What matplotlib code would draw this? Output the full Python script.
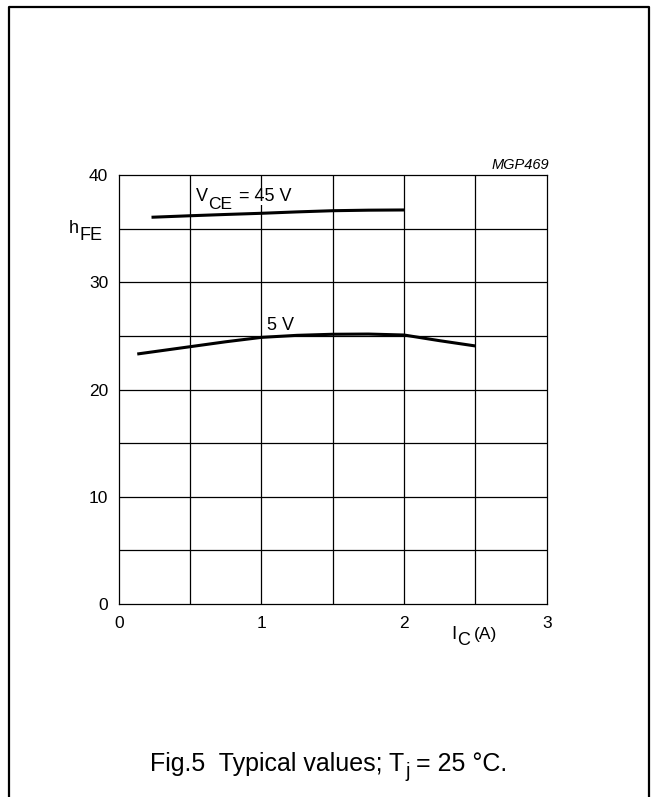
#!/usr/bin/env python3
import matplotlib
matplotlib.use("Agg")
import matplotlib.pyplot as plt
from matplotlib.lines import Line2D

plt.rcParams["font.family"] = ["Liberation Sans", "DejaVu Sans"]

# -----------------------------------------------------------
# Data (IC in A, hFE)
# -----------------------------------------------------------
ic_45v = [0.23, 0.5, 0.75, 1.0, 1.25, 1.5, 1.75, 2.0]
hfe_45v = [36.06, 36.2, 36.32, 36.43, 36.56, 36.67, 36.72, 36.74]

ic_5v = [0.13, 0.5, 0.75, 1.0, 1.25, 1.5, 1.75, 2.0, 2.25, 2.5]
hfe_5v = [23.31, 23.99, 24.45, 24.86, 25.05, 25.15, 25.17, 25.08, 24.55, 24.06]

x_ticks = [0, 1, 2, 3]
y_ticks = [0, 10, 20, 30, 40]
x_grid = [0.5, 1.0, 1.5, 2.0, 2.5]
y_grid = [5, 10, 15, 20, 25, 30, 35]

W, H = 654, 797
fig = plt.figure(figsize=(W / 100, H / 100), dpi=100)
renderer = fig.canvas.get_renderer()


# -----------------------------------------------------------
# Helper: write text pieces one after another (pixel coords,
# measured from the top-left corner); dy shifts a piece down
# -----------------------------------------------------------
def chain(x0, y0, pieces, **kw):
    x = x0
    for s, size, dy, gap, extra in pieces:
        x += gap
        t = fig.text(x / W, 1 - (y0 + dy) / H, s, fontsize=size,
                     ha="left", va="baseline", **kw, **extra)
        x = t.get_window_extent(renderer).x1
    return x


# outer frame (open at the bottom)
frame = Line2D([9 / W, 9 / W, 649 / W, 649 / W], [0, 1 - 7 / H, 1 - 7 / H, 0],
               transform=fig.transFigure, color="black", lw=1.6)
fig.add_artist(frame)

ax = fig.add_axes([118.7 / W, 1 - 604 / H, 428 / W, 429 / H])
ax.set_xlim(0, 3)
ax.set_ylim(0, 40)

for x in x_grid:
    ax.axvline(x, color="black", lw=0.9, zorder=1)
for y in y_grid:
    ax.axhline(y, color="black", lw=0.9, zorder=1)
for s in ax.spines.values():
    s.set_linewidth(0.9)

ax.set_xticks(x_ticks)
ax.set_yticks(y_ticks)
ax.tick_params(length=0, labelsize=12.5)
ax.tick_params(axis="x", pad=9)
ax.tick_params(axis="y", pad=7.5)

ax.plot(ic_45v, hfe_45v, color="black", lw=2.2, solid_capstyle="butt", zorder=3)
ax.plot(ic_5v, hfe_5v, color="black", lw=2.2, solid_capstyle="butt", zorder=3)

# curve labels
white = dict(bbox=dict(facecolor="white", edgecolor="none", pad=0))
chain(196, 201, [("V", 13, 0, 0, {}),
                 ("CE", 12.5, 8, 0.5, {}),
                 ("= 45 V", 13, 0, 6.5, white)], zorder=4)
chain(267, 330, [("5 V", 13, 0, 0, {})], zorder=4)

# axis labels
chain(69, 233, [("h", 13, 0, 0, {}), ("FE", 13, 7, 0.5, {})])
chain(451, 639, [("I", 13.5, 0, 0, {}), ("C", 13, 6, 0.5, {}),
                 ("(A)", 12.5, 0, 4, {})])

fig.text(549 / W, 1 - 169 / H, "MGP469", fontsize=10.5, style="italic",
         ha="right", va="baseline")

# caption
chain(150, 771, [("Fig.5  Typical values; T", 18, 0, 0, {}),
                 ("j", 14.5, 6, 1, {}),
                 ("= 25 \u00b0C.", 18, 0, 6, {})])

fig.savefig("out.png", dpi=100)
